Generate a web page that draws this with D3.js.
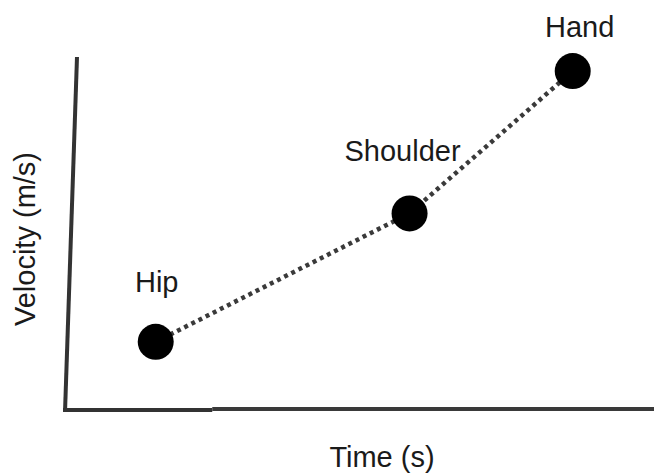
<!DOCTYPE html>
<html>
<head>
<meta charset="utf-8">
<script src="https://cdn.jsdelivr.net/npm/d3@7"></script>
<style>
    body { margin: 0; background: #fff; }
    svg { display: block; }
    text { font-family: "Liberation Sans", Arial, sans-serif; fill: #1a1a1a; }
</style>
</head>
<body>
<div id="chart"></div>
<script>
// Data
const segments = ['Hip', 'Shoulder', 'Hand'];
const times = [1.54, 5.85, 8.62];
const velocities = [1.93, 5.57, 9.6];

const width = 654;
const height = 476;

const svg = d3.select('#chart')
    .append('svg')
    .attr('width', width)
    .attr('height', height);

// Scales
const x = d3.scaleLinear().domain([0, 10]).range([65, 654]);
const y = d3.scaleLinear().domain([0, 10]).range([410, 57]);

// Axes (hand-drawn look, y axis leans slightly)
svg.append('line')
    .attr('x1', x(0) + 12).attr('y1', y(10))
    .attr('x2', x(0)).attr('y2', y(0) + 2)
    .attr('stroke', '#333').attr('stroke-width', 4);

svg.append('line')
    .attr('x1', x(0) - 2).attr('y1', y(0))
    .attr('x2', x(2.5)).attr('y2', y(0))
    .attr('stroke', '#333').attr('stroke-width', 4);

svg.append('line')
    .attr('x1', x(2.5)).attr('y1', y(0) - 1)
    .attr('x2', x(10)).attr('y2', y(0) - 1)
    .attr('stroke', '#3a3a3a').attr('stroke-width', 4);

// Axis titles
svg.append('text')
    .attr('x', 382)
    .attr('y', 467)
    .attr('text-anchor', 'middle')
    .style('font-size', '29px')
    .text('Time (s)');

svg.append('text')
    .attr('transform', 'translate(35,239) rotate(-90)')
    .attr('text-anchor', 'middle')
    .style('font-size', '29px')
    .text('Velocity (m/s)');

const points = segments.map((s, i) => ({ name: s, t: times[i], v: velocities[i] }));

// Dotted connecting line
svg.append('path')
    .datum(points)
    .attr('d', d3.line().x(d => x(d.t)).y(d => y(d.v)))
    .attr('fill', 'none')
    .attr('stroke', '#3a3a3a')
    .attr('stroke-width', 4.5)
    .attr('stroke-dasharray', '4,4');

// Points
svg.selectAll('.pt')
    .data(points)
    .enter()
    .append('circle')
    .attr('class', 'pt')
    .attr('cx', d => x(d.t))
    .attr('cy', d => y(d.v))
    .attr('r', 18)
    .attr('fill', '#000');

// Labels (offsets from each point)
const labelOffset = { Hip: [1, -50], Shoulder: [-7, -52], Hand: [7, -34] };
svg.selectAll('.lbl')
    .data(points)
    .enter()
    .append('text')
    .attr('class', 'lbl')
    .attr('x', d => x(d.t) + labelOffset[d.name][0])
    .attr('y', d => y(d.v) + labelOffset[d.name][1])
    .attr('text-anchor', 'middle')
    .style('font-size', '29px')
    .text(d => d.name);
</script>
</body>
</html>
